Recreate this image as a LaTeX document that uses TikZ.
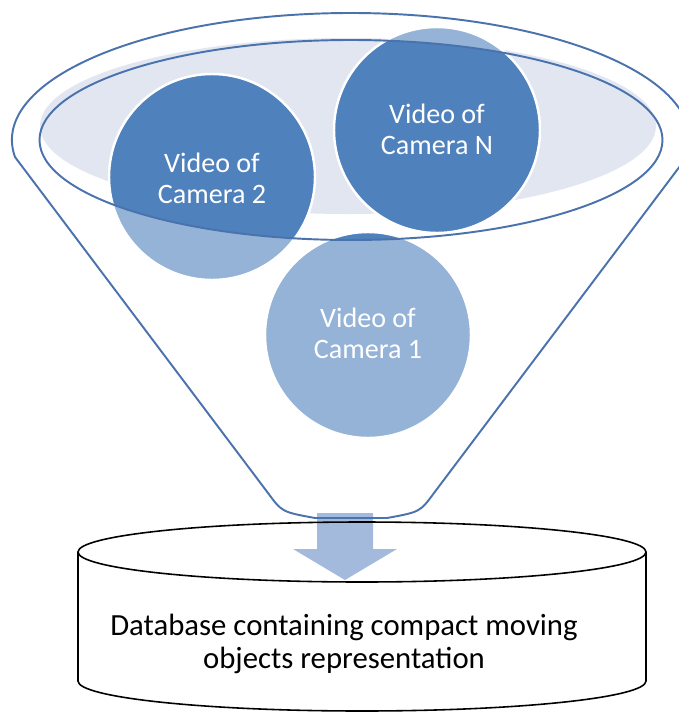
\documentclass[tikz,border=0pt]{standalone}
\usepackage{fontspec}
\setmainfont{Carlito}
\usetikzlibrary{calc}
\definecolor{camdark}{HTML}{4F81BD}
\definecolor{camlight}{HTML}{95B3D7}
\definecolor{rimblue}{HTML}{4A72AC}
\definecolor{bowlfill}{HTML}{E1E6F0}
\definecolor{arrowblue}{HTML}{A3BADC}
\begin{document}
\begin{tikzpicture}[x=0.02cm,y=-0.02cm,
    rim/.style={draw=rimblue,line width=1.1pt},
    camtext/.style={text=white,align=center,font=\fontsize{16}{17.5}\selectfont},
    dbline/.style={draw=black,line width=0.9pt}]
    \useasboundingbox (0,0) rectangle (679,714);
    % funnel
    \fill[white] (15,157) arc[start angle=172.3,end angle=367.7,x radius=339,y radius=127]
        -- (434,493) .. controls (420,512) .. (387,518) -- (315,518) .. controls (282,512) .. (268,493) -- cycle;
    \fill[bowlfill] (348,126) ellipse[x radius=308,y radius=88];
    % cameras
    \coordinate (c2) at (212,177);
    \coordinate (cN) at (437,130);
    \coordinate (c1) at (368,335);
    \foreach \c in {c2,cN,c1}
        \fill[camlight] (\c) circle[radius=103];
    \begin{scope}
        \clip (351,140) ellipse[x radius=311.5,y radius=100];
        \foreach \c in {c2,cN,c1}
            \fill[camdark] (\c) circle[radius=103];
    \end{scope}
    \foreach \c in {c2,cN,c1}
        \draw[white,line width=1.4pt] (\c) circle[radius=103];
    \node[camtext] (cam2) at ($(c2)+(0,1)$) {Video of\\Camera 2};
    \node[camtext] (camN) at ($(cN)+(0,-1)$) {Video of\\Camera N};
    \node[camtext] (cam1) at ($(c1)+(0,-2)$) {Video of\\Camera 1};
    % arrow into the database
    \fill[arrowblue] (317,513) -- (373,513) -- (373,549) -- (397,549) -- (345,580) -- (293,549) -- (317,549) -- cycle;
    % outlines
    \draw[rim] (351,140) ellipse[x radius=311.5,y radius=100];
    \draw[rim] (15,157) arc[start angle=172.3,end angle=367.7,x radius=339,y radius=127]
        -- (434,493) .. controls (420,512) .. (387,518) -- (315,518) .. controls (282,512) .. (268,493) -- cycle;
    % database
    \draw[dbline] (362,552) ellipse[x radius=284,y radius=30];
    \draw[dbline] (78,552) -- (78,681) arc[start angle=180,end angle=0,x radius=284,y radius=30] -- (646,552);
    \node[font=\fontsize{17.5}{18.3}\selectfont,align=center] (db) at (344,644)
        {Database containing compact moving\\objects representation};
\end{tikzpicture}
\end{document}
